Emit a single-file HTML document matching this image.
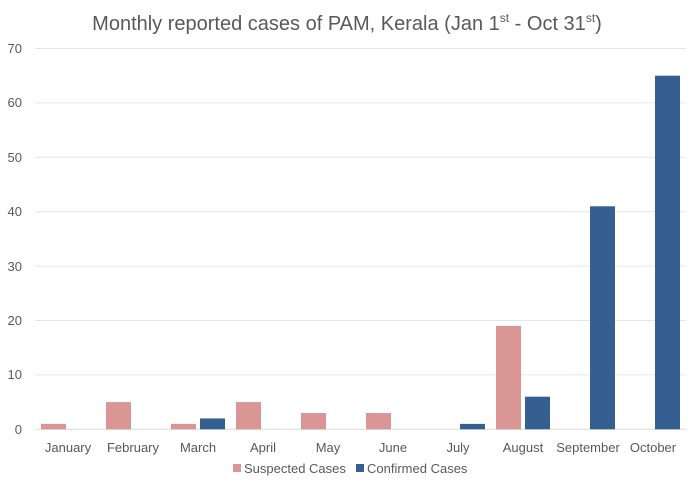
<!DOCTYPE html>
<html><head><meta charset="utf-8"><style>
body{margin:0;background:#fff;}
svg{display:block;font-family:"Liberation Sans",sans-serif;}
</style></head><body>
<svg width="695" height="487" viewBox="0 0 695 487">
<text x="347" y="30" text-anchor="middle" font-size="20" fill="#595959">Monthly reported cases of PAM, Kerala (Jan 1<tspan font-size="12" dy="-8">st</tspan><tspan dy="8">  - Oct 31</tspan><tspan font-size="12" dy="-8">st</tspan><tspan dy="8">)</tspan></text>
<g stroke="#e6e6e6" stroke-width="1">
<line x1="35" x2="686" y1="48.5" y2="48.5"/><line x1="35" x2="686" y1="102.9" y2="102.9"/>
<line x1="35" x2="686" y1="157.3" y2="157.3"/><line x1="35" x2="686" y1="211.7" y2="211.7"/>
<line x1="35" x2="686" y1="266.1" y2="266.1"/><line x1="35" x2="686" y1="320.5" y2="320.5"/>
<line x1="35" x2="686" y1="374.9" y2="374.9"/><line x1="35" x2="686" y1="429.3" y2="429.3" stroke="#d9d9d9"/>
</g>
<g font-size="13" fill="#595959" text-anchor="end">
<text x="22" y="53">70</text><text x="22" y="107">60</text><text x="22" y="162">50</text>
<text x="22" y="216">40</text><text x="22" y="271">30</text><text x="22" y="325">20</text>
<text x="22" y="379">10</text><text x="22" y="434">0</text>
</g>
<g fill="#d99694">
<rect x="41" y="423.9" width="25" height="5.4"/>
<rect x="106" y="402.1" width="25" height="27.2"/>
<rect x="171" y="423.9" width="25" height="5.4"/>
<rect x="236" y="402.1" width="25" height="27.2"/>
<rect x="301" y="413" width="25" height="16.3"/>
<rect x="366" y="413" width="25" height="16.3"/>
<rect x="496" y="325.9" width="25" height="103.4"/>
</g>
<g fill="#355f91">
<rect x="200" y="418.4" width="25" height="10.9"/>
<rect x="460" y="423.9" width="25" height="5.4"/>
<rect x="525" y="396.7" width="25" height="32.6"/>
<rect x="590" y="206.3" width="25" height="223"/>
<rect x="655" y="75.7" width="25" height="353.6"/>
</g>
<g font-size="13" fill="#595959" text-anchor="middle">
<text x="68" y="452">January</text><text x="133" y="452">February</text><text x="198" y="452">March</text>
<text x="263" y="452">April</text><text x="328" y="452">May</text><text x="393" y="452">June</text>
<text x="458" y="452">July</text><text x="523" y="452">August</text><text x="588" y="452">September</text>
<text x="653" y="452">October</text>
</g>
<rect x="233" y="464" width="8" height="8" fill="#d99694"/>
<text x="244" y="473" font-size="13" fill="#595959">Suspected Cases</text>
<rect x="356" y="464" width="8" height="8" fill="#355f91"/>
<text x="367" y="473" font-size="13" fill="#595959">Confirmed Cases</text>
</svg>
</body></html>
